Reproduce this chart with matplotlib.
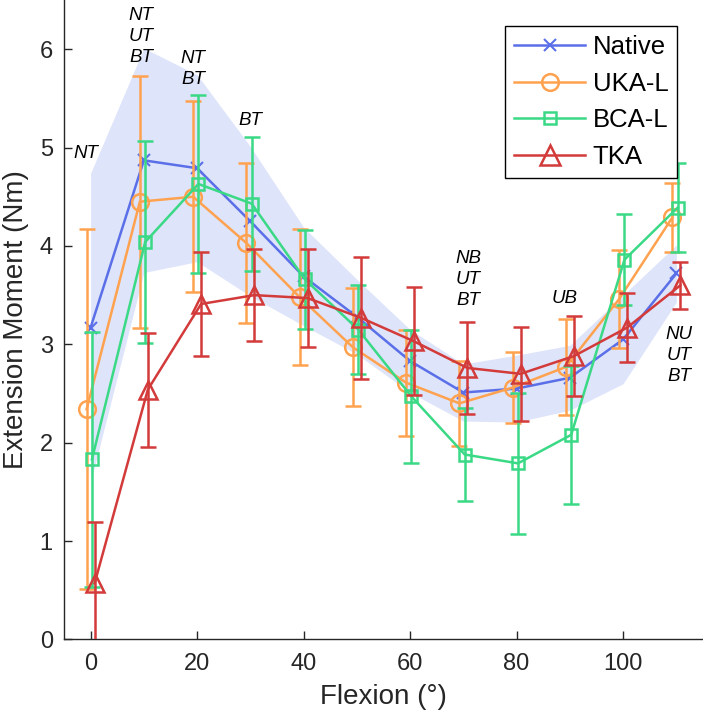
import numpy as np
import matplotlib
matplotlib.use("Agg")
import matplotlib.pyplot as plt
from matplotlib.lines import Line2D

plt.rcParams['font.family'] = ['Liberation Sans', 'DejaVu Sans']

# flexion angles
flexion = [0, 10, 20, 30, 40, 50, 60, 70, 80, 90, 100, 110]

# Native (mean with +/- SD band)
native_mean = [3.17, 4.87, 4.79, 4.25, 3.69, 3.28, 2.83, 2.51, 2.55, 2.66, 3.05, 3.72]
native_sd = [1.57, 1.14, 0.95, 0.76, 0.50, 0.38, 0.32, 0.29, 0.34, 0.33, 0.45, 0.29]

# UKA-L
uka_mean = [2.34, 4.45, 4.50, 4.03, 3.48, 2.97, 2.61, 2.40, 2.56, 2.77, 3.46, 4.29]
uka_sd = [1.83, 1.28, 0.97, 0.81, 0.69, 0.60, 0.54, 0.43, 0.36, 0.49, 0.50, 0.35]

# BCA-L
bca_mean = [1.83, 4.04, 4.63, 4.43, 3.66, 3.15, 2.47, 1.88, 1.79, 2.08, 3.86, 4.39]
bca_sd = [1.30, 1.03, 0.90, 0.68, 0.50, 0.45, 0.68, 0.47, 0.72, 0.70, 0.46, 0.45]

# TKA
tka_mean = [0.57, 2.54, 3.41, 3.50, 3.47, 3.27, 3.03, 2.76, 2.70, 2.88, 3.17, 3.60]
tka_sd = [0.62, 0.58, 0.53, 0.47, 0.50, 0.62, 0.55, 0.47, 0.48, 0.41, 0.35, 0.24]

# significance annotations: (x, y, text)
notes = [(-0.8, 4.94, "NT"),
         (9.5, 6.13, "NT\nUT\nBT"),
         (19.3, 5.80, "NT\nBT"),
         (30, 5.28, "BT"),
         (70.9, 3.66, "NB\nUT\nBT"),
         (89.1, 3.47, "UB"),
         (110.5, 2.89, "NU\nUT\nBT")]

c_native = '#5A6FE8'
c_uka = '#FFA24F'
c_bca = '#3AD985'
c_tka = '#D33A3A'
c_band = '#DEE4FA'
c_axis = '#262626'

x = np.array(flexion, dtype=float)

fig = plt.figure(figsize=(7.03, 7.25), dpi=100)
ax = fig.add_axes([0.091, 0.118, 0.909, 0.882])

nm = np.array(native_mean)
ns = np.array(native_sd)
ax.fill_between(x, nm - ns, nm + ns, color=c_band, lw=0, zorder=1)

ax.plot(x, nm, color=c_native, marker='x', ms=8, mew=1.5, lw=1.8, zorder=3)

styles = [(c_uka, 'o', 12, -0.75, uka_mean, uka_sd, 4),
          (c_bca, 's', 8, 0.25, bca_mean, bca_sd, 5),
          (c_tka, '^', 13, 0.75, tka_mean, tka_sd, 6)]
for col, mk, ms, dx, m, s, z in styles:
    ax.errorbar(x + dx, m, yerr=s, color=col, marker=mk, ms=ms,
                mfc='none', mew=1.8, lw=1.8, elinewidth=1.8, capsize=6,
                capthick=1.8, zorder=z)

for tx, ty, txt in notes:
    ax.text(tx, ty, txt, ha='center', va='center', fontsize=13.5, style='italic',
            linespacing=1.3, zorder=7)

ax.set_xlim(-5, 115)
ax.set_ylim(0, 6.5)
ax.set_xticks([0, 20, 40, 60, 80, 100])
ax.set_yticks([0, 1, 2, 3, 4, 5, 6])
ax.tick_params(direction='in', length=6, width=1, colors=c_axis, labelsize=17)
ax.tick_params(axis='x', pad=10)
ax.tick_params(axis='y', pad=8)
for sp in ['top', 'right']:
    ax.spines[sp].set_visible(False)
for sp in ['left', 'bottom']:
    ax.spines[sp].set_color(c_axis)
    ax.spines[sp].set_linewidth(1)

ax.set_xlabel('Flexion (°)', fontsize=20, color=c_axis, labelpad=6)
ax.set_ylabel('Extension Moment (Nm)', fontsize=20, color=c_axis, labelpad=8)

handles = [Line2D([], [], color=c_native, marker='x', ms=9, mew=1.5, lw=1.8),
           Line2D([], [], color=c_uka, marker='o', ms=12, mfc='none', mew=1.8, lw=1.8),
           Line2D([], [], color=c_bca, marker='s', ms=8, mfc='none', mew=1.8, lw=1.8),
           Line2D([], [], color=c_tka, marker='^', ms=14, mfc='none', mew=1.8, lw=1.8)]
leg = ax.legend(handles, ['Native', 'UKA-L', 'BCA-L', 'TKA'], loc='upper right',
                fontsize=18.5, handlelength=2.75, borderaxespad=1.0,
                fancybox=False, framealpha=1, edgecolor='#000000',
                borderpad=0.35, labelspacing=0.5, handletextpad=0.3)
leg.get_frame().set_linewidth(1)

fig.savefig('out.png', dpi=100)
